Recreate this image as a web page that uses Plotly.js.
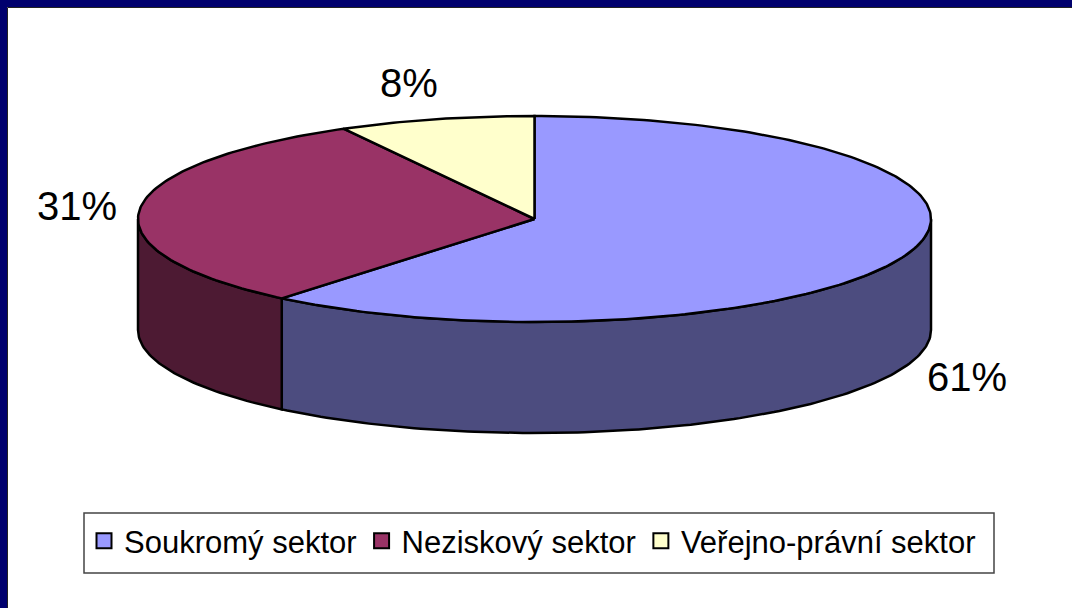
<!DOCTYPE html>
<html>
<head>
<meta charset="utf-8">
<script src="https://cdn.plot.ly/plotly-3.0.1.min.js"></script>
<style>
html,body{margin:0;padding:0;background:#fff;overflow:hidden;}
#chart{width:1072px;height:608px;}
</style>
</head>
<body>
<div id="chart"></div>
<script>
// ---- data ----
const categories = ['Soukromý sektor', 'Neziskový sektor', 'Veřejno-právní sektor'];
const shares = [61, 31, 8];
const topColors = ['#9999FF', '#993366', '#FFFFCC'];
const sideColors = ['#4C4C7F', '#4D1A33', '#807F66'];

// ---- geometry of the tilted pie (pixel space) ----
const W = 1072, H = 608;
const cx = 534.5, cy = 219, rx = 396.5, ry = 103, depth = 111;
const startAngle = 90; // degrees, clockwise

function pt(thetaDeg, dy) {
  const t = thetaDeg * Math.PI / 180;
  return [cx + rx * Math.cos(t), cy - ry * Math.sin(t) + (dy || 0)];
}
function arc(a0, a1, dy) {
  const n = Math.max(2, Math.ceil(Math.abs(a1 - a0)));
  const xs = [], ys = [];
  for (let k = 0; k <= n; k++) {
    const p = pt(a0 + (a1 - a0) * k / n, dy);
    xs.push(p[0]); ys.push(p[1]);
  }
  return [xs, ys];
}

const total = shares.reduce((a, b) => a + b, 0);
const slices = [];
let cum = 0;
shares.forEach((v, i) => {
  const a0 = startAngle - 360 * cum / total;
  const a1 = a0 - 360 * v / total;
  slices.push({a0, a1, i});
  cum += v;
});

const traces = [];
const lineStyle = {color: '#000', width: 2.5};

// side walls (front half only)
slices.forEach(s => {
  for (let k = -2; k <= 2; k++) {
    const f0 = -180 + 360 * k, f1 = 360 * k;
    const lo = Math.max(s.a1, f0), hi = Math.min(s.a0, f1);
    if (hi - lo > 0.01) {
      const top = arc(hi, lo, 0);
      const bot = arc(lo, hi, depth);
      traces.push({
        type: 'scatter', mode: 'lines', fill: 'toself',
        x: top[0].concat(bot[0]).concat([top[0][0]]),
        y: top[1].concat(bot[1]).concat([top[1][0]]),
        fillcolor: sideColors[s.i], line: lineStyle,
        showlegend: false, hoverinfo: 'skip'
      });
    }
  }
});

// top faces
slices.forEach(s => {
  const a = arc(s.a0, s.a1, 0);
  traces.push({
    type: 'scatter', mode: 'lines', fill: 'toself',
    x: [cx].concat(a[0]).concat([cx]),
    y: [cy].concat(a[1]).concat([cy]),
    fillcolor: topColors[s.i], line: lineStyle,
    showlegend: false, hoverinfo: 'skip'
  });
});

// legend entries
categories.forEach((c, i) => {
  traces.push({
    type: 'scatter', mode: 'markers', x: [null], y: [null], name: c,
    marker: {symbol: 'square', size: 15, color: topColors[i], line: {color: '#000', width: 2}},
    showlegend: true, hoverinfo: 'skip'
  });
});

// percentage labels
const annotations = slices.map(s => {
  const m = (s.a0 + s.a1) / 2 * Math.PI / 180;
  const sn = Math.sin(m);
  return {
    x: cx + (rx + 63) * Math.cos(m) * (sn > 0.5 ? 1.1 : 1),
    y: cy - (ry + 37) * sn + (sn < 0 ? depth : 0),
    xref: 'x', yref: 'y', text: shares[s.i] + '%', showarrow: false,
    xanchor: 'center', yanchor: 'middle',
    font: {size: 40, color: '#000', family: 'Arial, "Liberation Sans", sans-serif'}
  };
});

const layout = {
  width: W, height: H,
  margin: {l: 0, r: 0, t: 0, b: 0},
  paper_bgcolor: '#fff', plot_bgcolor: '#fff',
  font: {family: 'Arial, "Liberation Sans", sans-serif', color: '#000'},
  xaxis: {range: [0, W], visible: false, fixedrange: true},
  yaxis: {range: [H, 0], visible: false, fixedrange: true},
  showlegend: true,
  legend: {
    orientation: 'h', x: 84 / W, y: 1 - 514 / H, xanchor: 'left', yanchor: 'top',
    bgcolor: 'rgba(0,0,0,0)', borderwidth: 0,
    font: {size: 31, color: '#000', family: 'Arial, "Liberation Sans", sans-serif'},
    traceorder: 'normal'
  },
  annotations: annotations,
  shapes: [
    {type: 'rect', xref: 'paper', yref: 'paper', x0: 84 / W, x1: 994 / W, y0: 1 - 513 / H, y1: 1 - 573 / H, fillcolor: 'rgba(0,0,0,0)', line: {color: '#444', width: 1.5}, layer: 'below'},
    {type: 'rect', xref: 'paper', yref: 'paper', x0: 0, x1: 1, y0: 1, y1: 1 - 7 / H, fillcolor: '#00006E', line: {width: 0}, layer: 'above'},
    {type: 'rect', xref: 'paper', yref: 'paper', x0: 0, x1: 7 / W, y0: 0, y1: 1, fillcolor: '#00006E', line: {width: 0}, layer: 'above'},
    {type: 'line', xref: 'paper', yref: 'paper', x0: 7.5 / W, x1: 1, y0: 1 - 7.5 / H, y1: 1 - 7.5 / H, line: {color: '#222', width: 1}, layer: 'above'},
    {type: 'line', xref: 'paper', yref: 'paper', x0: 7.5 / W, x1: 7.5 / W, y0: 0, y1: 1 - 7.5 / H, line: {color: '#222', width: 1}, layer: 'above'}
  ],
  hovermode: false
};

Plotly.newPlot('chart', traces, layout, {displayModeBar: false, staticPlot: true});
</script>
</body>
</html>
